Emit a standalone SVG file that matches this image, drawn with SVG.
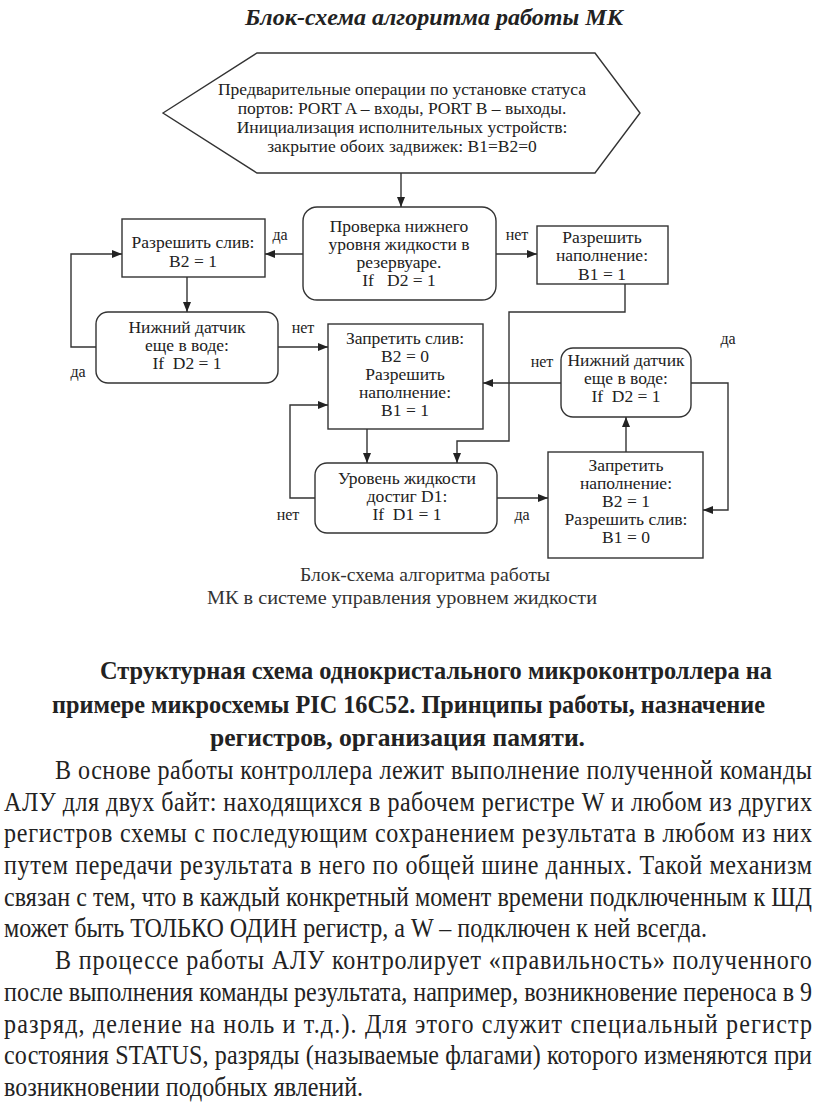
<svg xmlns="http://www.w3.org/2000/svg" width="816" height="1108" viewBox="0 0 816 1108">
<defs>
<marker id="arr" viewBox="0 0 10 8" refX="10" refY="4" markerWidth="10" markerHeight="8" markerUnits="userSpaceOnUse" orient="auto">
<path d="M0,0 L10,4 L0,8 z" fill="#222"/>
</marker>
</defs>
<style>
.box{fill:#fff;stroke:#333;stroke-width:1.4}
.t{font-family:"Liberation Serif","Times New Roman",serif;font-size:17.5px;fill:#222;text-anchor:middle;white-space:pre}
.lbl{font-family:"Liberation Serif","Times New Roman",serif;font-size:16px;fill:#222;text-anchor:middle}
.conn{fill:none;stroke:#333;stroke-width:1.4;marker-end:url(#arr)}
.title{font-family:"Liberation Serif","Times New Roman",serif;font-size:24px;font-weight:bold;font-style:italic;fill:#222}
.cap{font-family:"Liberation Serif","Times New Roman",serif;font-size:18px;fill:#333;text-anchor:middle}
.h{font-family:"Liberation Serif","Times New Roman",serif;font-size:26px;font-weight:bold;fill:#222}
.b{font-family:"Liberation Serif","Times New Roman",serif;font-size:28px;fill:#222}
</style>
<rect width="816" height="1108" fill="#fff"/>
<text class="title" x="245" y="25" textLength="378" lengthAdjust="spacingAndGlyphs">Блок-схема алгоритма работы МК</text>

<g id="init">
<polygon class="box" points="163,113 257,53 595,53 640,113 595,173 257,173"/>
<text class="t" x="402" y="95">Предварительные операции по установке статуса</text>
<text class="t" x="402" y="114">портов: PORT A – входы, PORT B – выходы.</text>
<text class="t" x="402" y="133">Инициализация исполнительных устройств:</text>
<text class="t" x="402" y="152">закрытие обоих задвижек: B1=B2=0</text>
</g>
<g id="check">
<rect class="box" x="303" y="207" width="193" height="93" rx="14"/>
<text class="t" x="399" y="232">Проверка нижнего</text>
<text class="t" x="399" y="250">уровня жидкости в</text>
<text class="t" x="399" y="268">резервуаре.</text>
<text class="t" x="399" y="286">If   D2 = 1</text>
</g>
<g id="allowDrain">
<rect class="box" x="122" y="219" width="143" height="58"/>
<text class="t" x="193" y="248">Разрешить слив:</text>
<text class="t" x="193" y="267">B2 = 1</text>
</g>
<g id="allowFill">
<rect class="box" x="537" y="226" width="131" height="58"/>
<text class="t" x="602" y="243">Разрешить</text>
<text class="t" x="602" y="261">наполнение:</text>
<text class="t" x="602" y="280">B1 = 1</text>
</g>
<g id="sensorLeft">
<rect class="box" x="96" y="312" width="182" height="71" rx="12"/>
<text class="t" x="187" y="333">Нижний датчик</text>
<text class="t" x="187" y="351">еще в воде:</text>
<text class="t" x="187" y="369">If  D2 = 1</text>
</g>
<g id="stopDrain">
<rect class="box" x="328" y="324" width="155" height="105"/>
<text class="t" x="405" y="344">Запретить слив:</text>
<text class="t" x="405" y="362">B2 = 0</text>
<text class="t" x="405" y="380">Разрешить</text>
<text class="t" x="405" y="398">наполнение:</text>
<text class="t" x="405" y="416">B1 = 1</text>
</g>
<g id="sensorRight">
<rect class="box" x="561" y="348" width="130" height="69" rx="12"/>
<text class="t" x="626" y="366">Нижний датчик</text>
<text class="t" x="626" y="384">еще в воде:</text>
<text class="t" x="626" y="402">If  D2 = 1</text>
</g>
<g id="level">
<rect class="box" x="315" y="463" width="182" height="70" rx="12"/>
<text class="t" x="407" y="484">Уровень жидкости</text>
<text class="t" x="407" y="502">достиг D1:</text>
<text class="t" x="407" y="520">If  D1 = 1</text>
</g>
<g id="stopFill">
<rect class="box" x="548" y="452" width="155" height="106"/>
<text class="t" x="626" y="471">Запретить</text>
<text class="t" x="626" y="489">наполнение:</text>
<text class="t" x="626" y="507">B2 = 1</text>
<text class="t" x="626" y="525">Разрешить слив:</text>
<text class="t" x="626" y="543">B1 = 0</text>
</g>

<g id="connectors">
<path class="conn" d="M401,173 V207"/>
<path class="conn" d="M303,254 H265"/>
<path class="conn" d="M496,254 H537"/>
<path class="conn" d="M187,277 V312"/>
<path class="conn" d="M96,347 H71 V254 H122"/>
<path class="conn" d="M278,347 H328"/>
<path class="conn" d="M625,284 V312 H509 V441 H457 V463"/>
<path class="conn" d="M561,383 H483"/>
<path class="conn" d="M691,383 H728 V510 H703"/>
<path class="conn" d="M626,452 V417"/>
<path class="conn" d="M367,429 V463"/>
<path class="conn" d="M497,498 H548"/>
<path class="conn" d="M315,498 H290 V405 H328"/>
<text class="lbl" x="280" y="240">да</text>
<text class="lbl" x="517" y="240">нет</text>
<text class="lbl" x="78" y="377">да</text>
<text class="lbl" x="303" y="333">нет</text>
<text class="lbl" x="542" y="367">нет</text>
<text class="lbl" x="728" y="344">да</text>
<text class="lbl" x="522" y="520">да</text>
<text class="lbl" x="288" y="520">нет</text>
</g>

<text class="cap" x="425" y="581" textLength="250" lengthAdjust="spacingAndGlyphs">Блок-схема алгоритма работы</text>
<text class="cap" x="402" y="604" textLength="390" lengthAdjust="spacingAndGlyphs">МК в системе управления уровнем жидкости</text>

<text class="h" x="100" y="679" textLength="672" lengthAdjust="spacingAndGlyphs">Структурная схема однокристального микроконтроллера на</text>
<text class="h" x="52" y="713" textLength="713" lengthAdjust="spacingAndGlyphs">примере микросхемы PIC 16C52. Принципы работы, назначение</text>
<text class="h" x="210" y="746" textLength="375" lengthAdjust="spacingAndGlyphs">регистров, организация памяти.</text>

<g transform="scale(0.86 1)">
<text class="b" x="64" y="779" textLength="880" lengthAdjust="spacing">В основе работы контроллера лежит выполнение полученной команды</text>
<text class="b" x="4.7" y="810.7" textLength="939.5" lengthAdjust="spacing">АЛУ для двух байт: находящихся в рабочем регистре W и любом из других</text>
<text class="b" x="4.7" y="842.4" textLength="939.5" lengthAdjust="spacing">регистров схемы с последующим сохранением результата в любом из них</text>
<text class="b" x="4.7" y="874.1" textLength="939.5" lengthAdjust="spacing">путем передачи результата в него по общей шине данных. Такой механизм</text>
<text class="b" x="4.7" y="905.8" textLength="939.5" lengthAdjust="spacing">связан с тем, что в каждый конкретный момент времени подключенным к ШД</text>
<text class="b" x="4.7" y="937.5">может быть ТОЛЬКО ОДИН регистр, а W – подключен к ней всегда.</text>
<text class="b" x="64" y="969.2" textLength="880" lengthAdjust="spacing">В процессе работы АЛУ контролирует «правильность» полученного</text>
<text class="b" x="4.7" y="1000.9" textLength="939.5" lengthAdjust="spacing">после выполнения команды результата, например, возникновение переноса в 9</text>
<text class="b" x="4.7" y="1032.6" textLength="939.5" lengthAdjust="spacing">разряд, деление на ноль и т.д.). Для этого служит специальный регистр</text>
<text class="b" x="4.7" y="1064.3" textLength="939.5" lengthAdjust="spacing">состояния STATUS, разряды (называемые флагами) которого изменяются при</text>
<text class="b" x="4.7" y="1096">возникновении подобных явлений.</text>
</g>
</svg>
